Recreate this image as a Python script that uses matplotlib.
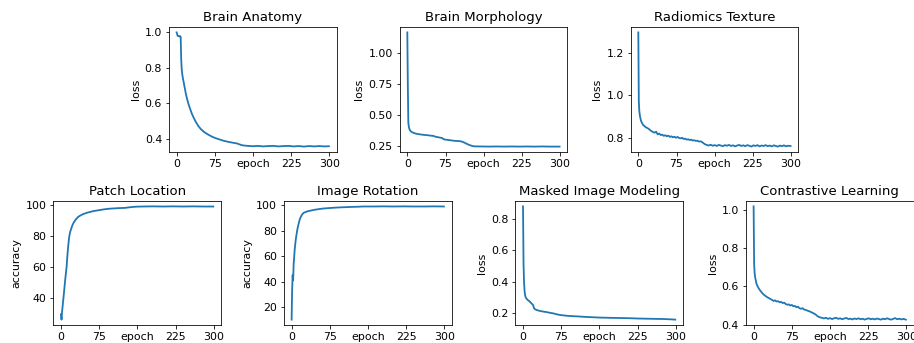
import matplotlib
matplotlib.use("Agg")
import matplotlib.pyplot as plt

# ---------------- data ----------------
xtick_vals = [0, 75, 150, 225, 300]
xtick_labels = ["0", "75", "epoch", "225", "300"]

titles = ["Brain Anatomy", "Brain Morphology", "Radiomics Texture",
          "Patch Location", "Image Rotation", "Masked Image Modeling",
          "Contrastive Learning"]
ylabels = ["loss", "loss", "loss", "accuracy", "accuracy", "loss", "loss"]

anat_ep = [0, 1, 2, 3, 4, 5, 6, 7, 8, 9, 10, 11, 12, 14, 16, 18, 20, 23, 26, 30,
           34, 38, 43, 48, 54, 61, 68, 75, 83, 92, 101, 110, 118, 124, 128, 132,
           136, 140, 150, 160, 170, 180, 190, 200, 210, 220, 230, 240, 250, 260,
           270, 280, 290, 299]
anat_val = [0.997, 0.988, 0.978, 0.976, 0.977, 0.975, 0.974, 0.976, 0.972, 0.85,
            0.79, 0.765, 0.745, 0.715, 0.685, 0.655, 0.63, 0.598, 0.572, 0.54,
            0.515, 0.493, 0.47, 0.453, 0.438, 0.425, 0.414, 0.405, 0.397, 0.389,
            0.383, 0.378, 0.374, 0.368, 0.364, 0.362, 0.361, 0.360, 0.358, 0.360,
            0.357, 0.359, 0.360, 0.357, 0.359, 0.360, 0.357, 0.359, 0.356, 0.359,
            0.357, 0.359, 0.357, 0.358]

morph_ep = [0, 1, 2, 3, 4, 5, 6, 8, 10, 13, 16, 20, 25, 30, 35, 40, 45, 50, 53,
            56, 60, 65, 68, 71, 75, 80, 85, 90, 95, 100, 105, 108, 112, 116, 120,
            124, 128, 132, 145, 160, 175, 190, 205, 220, 235, 250, 265, 280, 299]
morph_val = [1.17, 0.75, 0.44, 0.405, 0.39, 0.38, 0.373, 0.366, 0.361, 0.356,
             0.352, 0.348, 0.345, 0.342, 0.340, 0.338, 0.335, 0.333, 0.330, 0.325,
             0.322, 0.318, 0.316, 0.306, 0.302, 0.300, 0.297, 0.294, 0.292, 0.291,
             0.289, 0.285, 0.278, 0.270, 0.262, 0.256, 0.250, 0.248, 0.247, 0.246,
             0.247, 0.246, 0.247, 0.246, 0.247, 0.246, 0.247, 0.246, 0.246]

rad_ep = [0, 1, 2, 3, 4, 5, 6, 8, 10, 12, 14, 17, 20, 23, 26, 29, 32, 35, 38, 41,
          44, 47, 50, 53, 56, 59, 62, 65, 68, 71, 74, 77, 80, 83, 86, 89, 92, 95,
          98, 101, 104, 107, 110, 113, 116, 119, 122, 125, 128, 131, 134, 138, 142,
          146, 150, 154, 158, 162, 166, 170, 174, 178, 182, 186, 190, 194, 198, 202,
          206, 210, 214, 218, 222, 226, 230, 234, 238, 242, 246, 250, 254, 258, 262,
          266, 270, 274, 278, 282, 286, 290, 294, 299]
rad_val = [1.30, 0.97, 0.925, 0.905, 0.893, 0.883, 0.875, 0.866, 0.858, 0.855,
           0.850, 0.846, 0.842, 0.836, 0.830, 0.826, 0.823, 0.828, 0.815, 0.819,
           0.812, 0.814, 0.808, 0.811, 0.806, 0.809, 0.803, 0.806, 0.801, 0.804,
           0.799, 0.803, 0.798, 0.796, 0.799, 0.793, 0.795, 0.790, 0.792, 0.788,
           0.790, 0.786, 0.787, 0.784, 0.785, 0.781, 0.782, 0.779, 0.773, 0.768,
           0.765, 0.762, 0.766, 0.761, 0.764, 0.760, 0.765, 0.762, 0.759, 0.764,
           0.761, 0.765, 0.760, 0.763, 0.758, 0.762, 0.765, 0.760, 0.763, 0.759,
           0.764, 0.761, 0.757, 0.763, 0.760, 0.764, 0.758, 0.762, 0.760, 0.764,
           0.759, 0.762, 0.758, 0.763, 0.760, 0.757, 0.762, 0.759, 0.763, 0.758,
           0.761, 0.760]

patch_ep = [0, 1, 2, 3, 4, 5, 6, 7, 8, 9, 10, 11, 12, 13, 14, 15, 16, 17, 18, 20,
            22, 25, 28, 31, 34, 38, 42, 46, 51, 57, 63, 70, 77, 85, 95, 105, 115,
            125, 132, 140, 148, 160, 180, 200, 220, 240, 260, 280, 299]
patch_val = [29.5, 26.0, 31.0, 34.0, 37.5, 40.5, 44.0, 47.5, 51.0, 54.0, 57.0,
             60.0, 65.0, 69.0, 73.0, 76.0, 79.0, 81.0, 82.5, 84.5, 86.5, 88.5,
             90.0, 91.2, 92.2, 93.0, 93.7, 94.2, 94.8, 95.3, 95.8, 96.2, 96.6,
             97.0, 97.4, 97.6, 97.8, 97.9, 98.2, 98.5, 98.7, 98.8, 98.9, 98.8,
             98.9, 98.8, 98.9, 98.8, 98.8]

rot_ep = [0, 1, 2, 3, 4, 5, 6, 7, 8, 9, 10, 11, 12, 13, 14, 15, 16, 18, 20, 23,
          27, 32, 38, 45, 53, 62, 72, 82, 95, 108, 120, 130, 140, 160, 180, 200,
          220, 240, 260, 280, 299]
rot_val = [10.0, 33.0, 45.0, 41.0, 54.0, 59.0, 65.0, 69.0, 72.5, 75.5, 78.0,
           80.5, 82.5, 84.3, 86.0, 87.5, 89.0, 91.0, 92.5, 94.0, 94.8, 95.5, 96.0,
           96.6, 97.1, 97.6, 97.9, 98.2, 98.5, 98.7, 98.9, 99.0, 99.2, 99.2, 99.3,
           99.2, 99.3, 99.2, 99.2, 99.3, 99.2]

mim_ep = [0, 1, 2, 3, 4, 5, 6, 8, 10, 12, 14, 16, 18, 20, 21, 22, 24, 27, 30, 35,
          40, 46, 52, 59, 66, 72, 79, 88, 98, 110, 124, 138, 151, 165, 177, 195,
          210, 226, 242, 258, 275, 290, 299]
mim_val = [0.88, 0.52, 0.40, 0.345, 0.318, 0.305, 0.298, 0.290, 0.284, 0.279,
           0.273, 0.266, 0.260, 0.252, 0.240, 0.232, 0.226, 0.222, 0.219, 0.215,
           0.212, 0.209, 0.205, 0.201, 0.195, 0.191, 0.188, 0.185, 0.183, 0.181,
           0.178, 0.176, 0.174, 0.173, 0.172, 0.171, 0.170, 0.168, 0.167, 0.166,
           0.165, 0.163, 0.161]

con_ep = [0, 1, 2, 3, 4, 5, 6, 8, 10, 12, 15, 18, 21, 24, 27, 30, 33, 36, 39, 42,
          45, 48, 51, 54, 57, 60, 63, 66, 69, 72, 75, 78, 81, 84, 87, 90, 93, 96,
          99, 102, 105, 108, 111, 114, 117, 120, 123, 126, 129, 132, 135, 138, 142,
          146, 150, 154, 158, 162, 166, 170, 174, 178, 182, 186, 190, 194, 198, 202,
          206, 210, 214, 218, 222, 226, 230, 234, 238, 242, 246, 250, 254, 258, 262,
          266, 270, 274, 278, 282, 286, 290, 294, 299]
con_val = [1.02, 0.72, 0.67, 0.648, 0.635, 0.622, 0.612, 0.600, 0.590, 0.582,
           0.572, 0.562, 0.555, 0.549, 0.543, 0.539, 0.534, 0.530, 0.524, 0.527,
           0.521, 0.523, 0.517, 0.519, 0.513, 0.515, 0.508, 0.504, 0.506, 0.500,
           0.503, 0.496, 0.498, 0.491, 0.494, 0.486, 0.483, 0.486, 0.479, 0.477,
           0.474, 0.471, 0.468, 0.464, 0.460, 0.456, 0.450, 0.443, 0.439, 0.437,
           0.435, 0.432, 0.436, 0.430, 0.434, 0.429, 0.433, 0.436, 0.430, 0.433,
           0.428, 0.432, 0.435, 0.429, 0.431, 0.427, 0.432, 0.429, 0.433, 0.428,
           0.431, 0.426, 0.430, 0.433, 0.428, 0.431, 0.427, 0.432, 0.429, 0.426,
           0.431, 0.428, 0.433, 0.429, 0.426, 0.430, 0.434, 0.428, 0.431, 0.427,
           0.430, 0.426]

series = [(anat_ep, anat_val), (morph_ep, morph_val), (rad_ep, rad_val),
          (patch_ep, patch_val), (rot_ep, rot_val), (mim_ep, mim_val),
          (con_ep, con_val)]

yticks = [[0.4, 0.6, 0.8, 1.0],
          [0.25, 0.50, 0.75, 1.00],
          [0.8, 1.0, 1.2],
          [40, 60, 80, 100],
          [20, 40, 60, 80, 100],
          [0.2, 0.4, 0.6, 0.8],
          [0.4, 0.6, 0.8, 1.0]]

# ---------------- layout (pixels) ----------------
W, H = 914, 343
DPI = 72
plt.rcParams["font.size"] = 11
# left, top, width, height in pixels
rects = [(169.0, 26.7, 167.5, 125.6),
         (399.7, 26.7, 167.5, 125.6),
         (630.7, 26.7, 167.5, 125.6),
         (53.4, 200.7, 167.5, 124.6),
         (284.0, 200.7, 167.5, 124.6),
         (515.4, 200.7, 167.5, 124.6),
         (746.0, 200.7, 167.5, 124.6)]

fig = plt.figure(figsize=(W / DPI, H / DPI), dpi=DPI)

for i, (l, t, w, h) in enumerate(rects):
    ax = fig.add_axes([l / W, 1 - (t + h) / H, w / W, h / H])
    ep, val = series[i]
    ax.plot(ep, val, color="#1f77b4", linewidth=1.8)
    ax.set_xticks(xtick_vals)
    ax.set_xticklabels(xtick_labels)
    ax.set_yticks(yticks[i])
    ax.set_title(titles[i])
    ax.set_ylabel(ylabels[i])

fig.savefig("out.png", dpi=DPI)
